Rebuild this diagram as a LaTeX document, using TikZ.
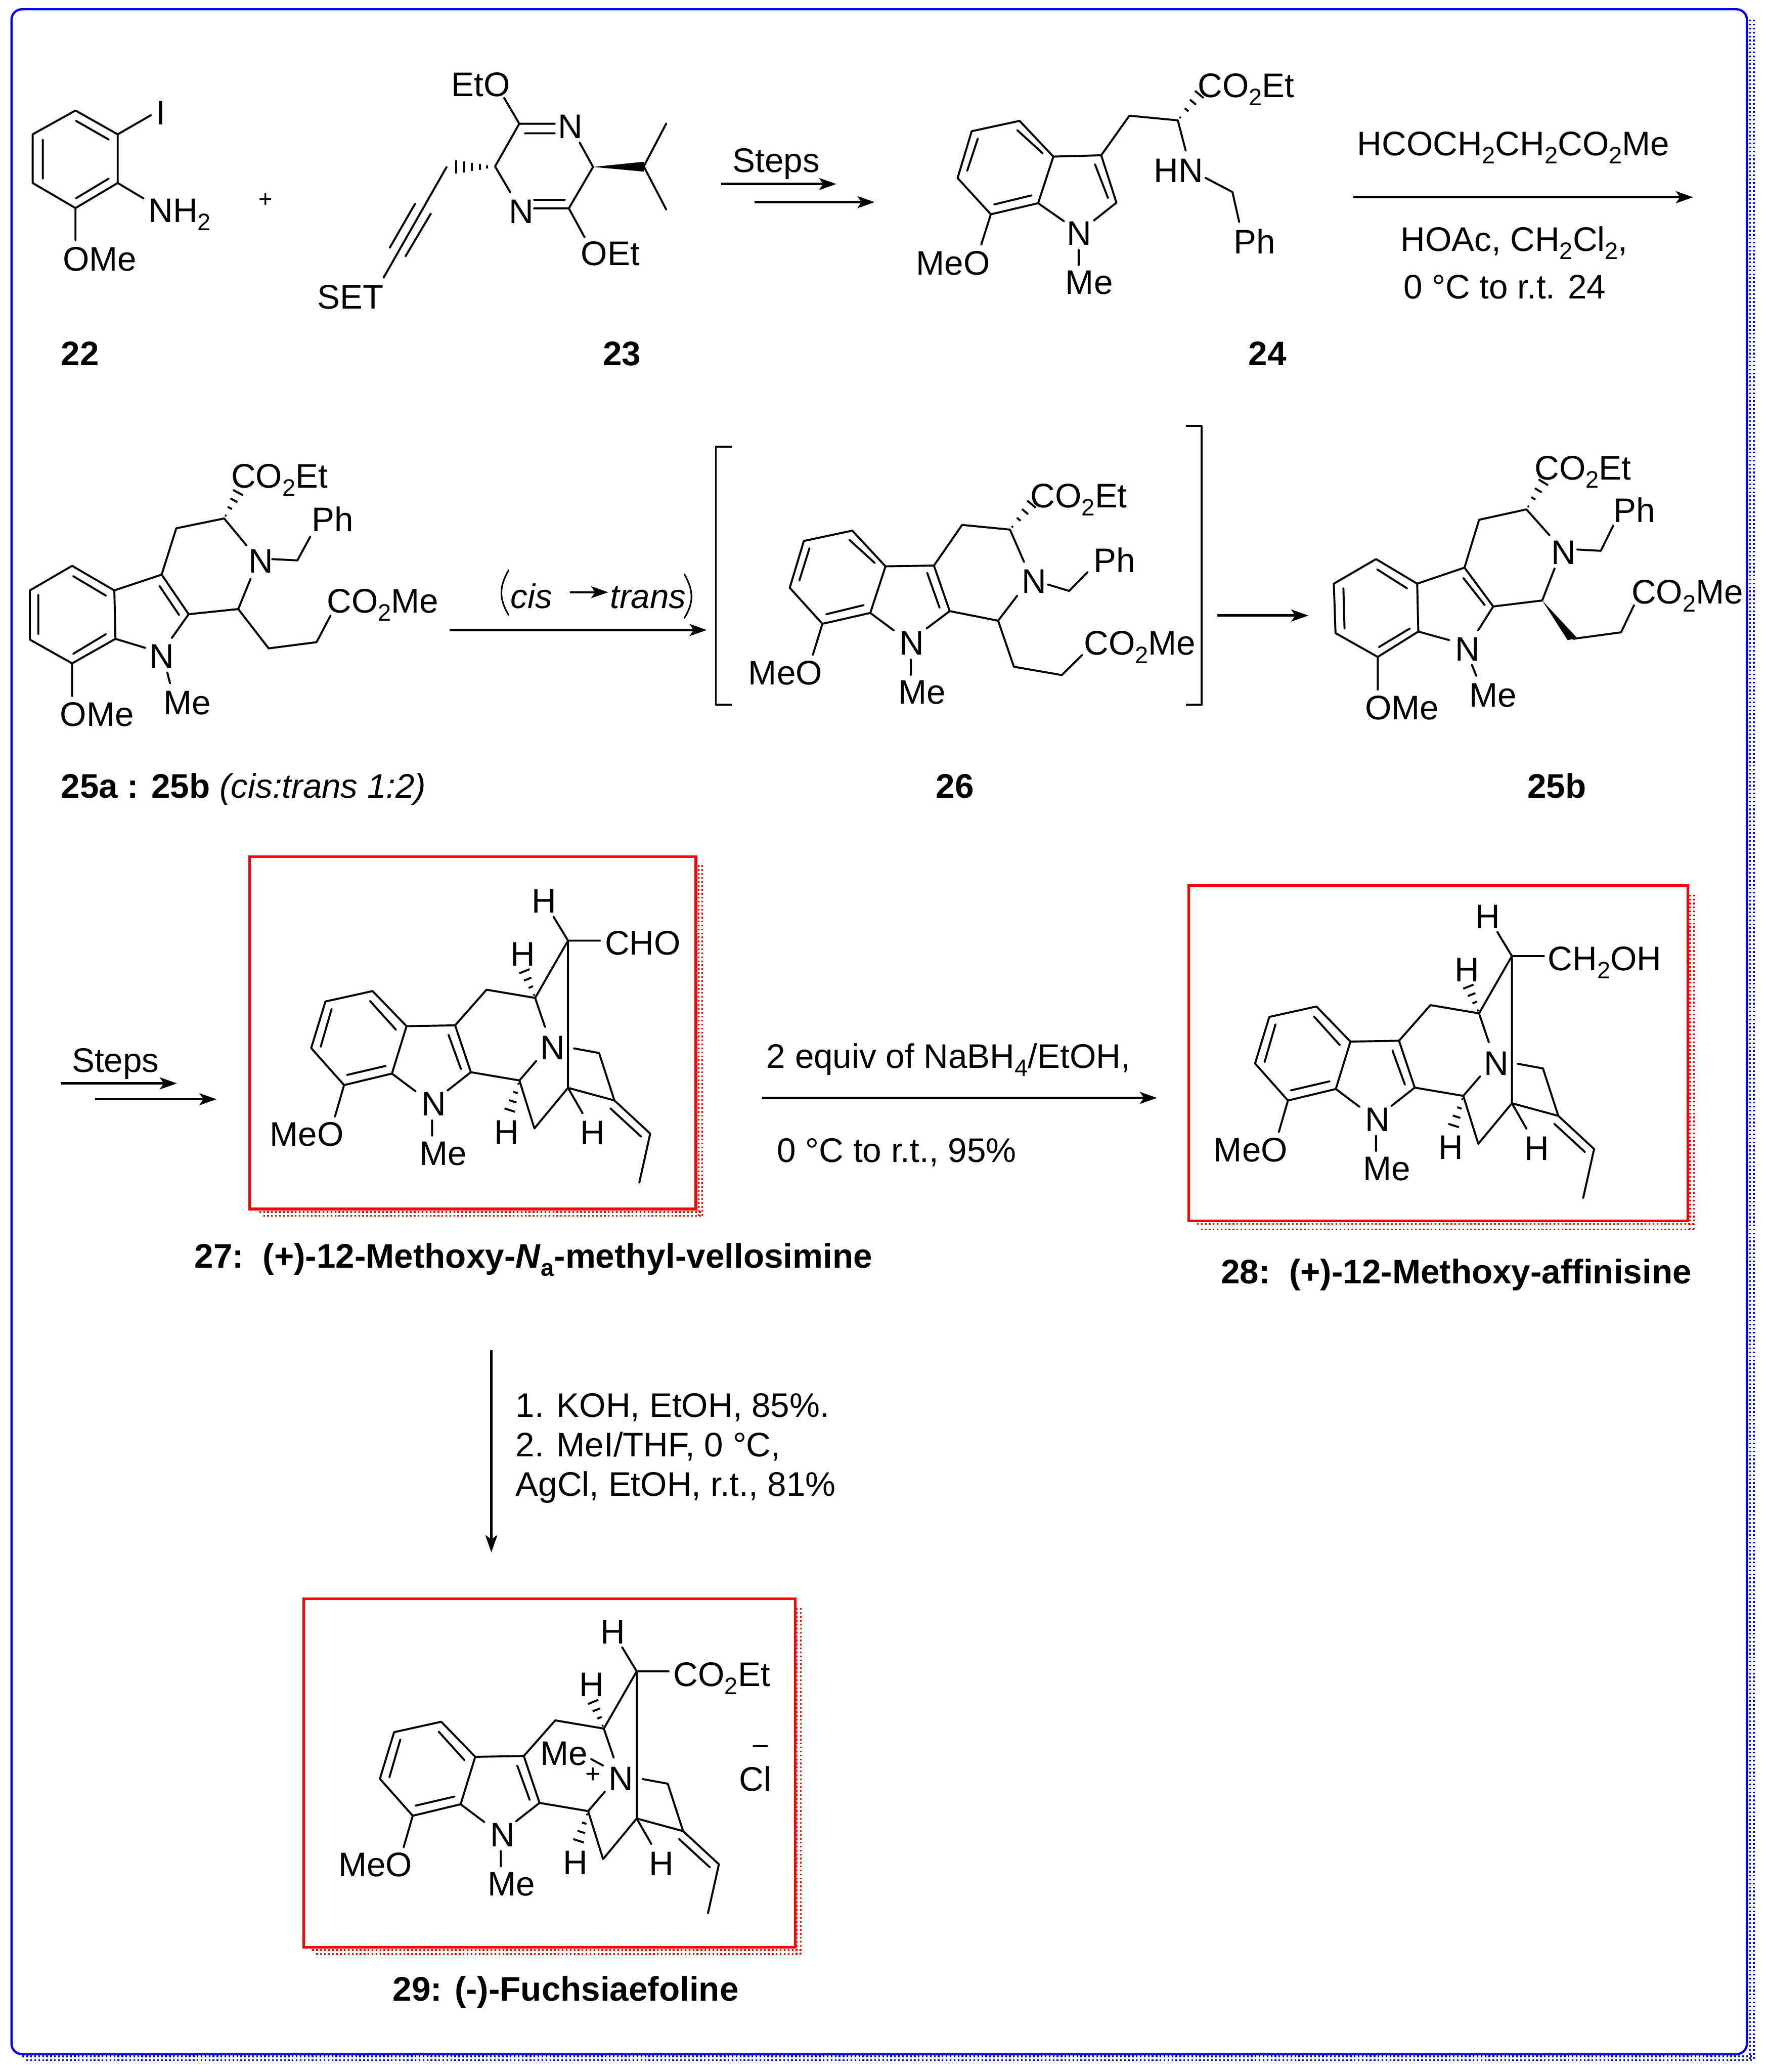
\documentclass[tikz,border=0pt]{standalone}
\usepackage{fontspec}
\setmainfont{Liberation Sans}
\usetikzlibrary{arrows.meta,calc}
\definecolor{framblue}{RGB}{0,0,255}
\definecolor{boxred}{RGB}{255,0,0}
\newcommand{\subs}[1]{\raisebox{-.24em}{\fontsize{18}{18}\selectfont #1}}
\tikzset{
 zt/.style 2 args={shift={(#1,#2)},x=.4264pt,y=-.1959pt},
 zm/.style 2 args={shift={(#1,#2)},x=.2766pt,y=-.20747pt},
 lab/.style={inner sep=0pt,outer sep=0pt,anchor=base west,xshift=-.6pt,yshift=-.5pt,font=\fontsize{25.8}{30}\selectfont},
 num/.style={lab,font=\fontsize{25.8}{30}\selectfont\bfseries},
 bond/.style={line width=1.5pt,line cap=round,line join=round},
 rxn/.style={line width=1.9pt,-{Stealth[length=13pt,width=9pt,inset=3pt]}},
 dotrow/.style={line width=1.25pt,dash pattern=on 1.25pt off 1.75pt},
}
% colour, left, top, column 1, column 2, row 1, row 2
\newcommand{\dotframe}[7]{%
 \draw[dotrow,#1] (#2,#6)--(#5,#6);
 \draw[dotrow,#1] (#2+3,#7)--(#5,#7);
 \draw[dotrow,#1] (#4,#3)--(#4,#7);
 \draw[dotrow,#1] (#5,#3)--(#5,#7);
}
\newcommand{\hashbond}[2]{\foreach \hf/\hw in {.1/.6,.37/1.8,.64/3,.91/4.2}{\draw[bond,line cap=butt] ($#1!\hf!#2!\hw pt!90:#2$) -- ($#1!\hf!#2!\hw pt!-90:#2$);}}
\newcommand{\pentacycle}[1]{%
 \draw[bond] (497,567)--(368,605)--(329,775)--(419,910)--(550,868)--(590,695)--cycle;
 \draw[bond] (490,603)--(561,708) (385,632)--(355,770) (427,873)--(533,840);
 \draw[bond] (590,695)--(723,692)--(766,863)--(702,930) (550,868)--(615,933) (705,727)--(739,852);
 \draw[bond] (660,1038)--(660,1095) (419,910)--(394,1025);
 \draw[bond] (723,692)--(809,562)--(942,592)--(969,698) (942,592)--(1032,383)--(992,295) (1032,383)--(1120,383) (1032,383)--(1032,920);
 \draw[bond] (945,822)--(899,893)--(766,863) (899,893)--(940,1068)--(1032,920)--(1072,1013) (1032,920)--(1159,966) (1048,776)--(1117,793)--(1159,966)--(1257,1087)--(1227,1266) (1148,995)--(1232,1098);
 \hashbond{(942,592)}{(910,485)}
 \hashbond{(899,893)}{(870,1012)}
 \node[lab] (#1N) at (633,1020) {N};
 \node[lab] (#1Me) at (627,1200) {Me};
 \node[lab] (#1MeO) at (218,1130) {MeO};
 \node[lab] (#1Nb) at (958,815) {N};
 \node[lab] (#1Ha) at (935,280) {H};
 \node[lab] (#1Hb) at (877,473) {H};
 \node[lab] (#1Hc) at (833,1122) {H};
 \node[lab] (#1Hd) at (1068,1125) {H};
}
\begin{document}
\begin{tikzpicture}[x=1pt,y=-1pt]
\useasboundingbox (0,0) rectangle (1337,1568.3);
% frame
\dotframe{framblue}{17}{15}{1324.9}{1327.8}{1556.4}{1559.2}
\draw[framblue,line width=1.7pt,rounded corners=8pt] (8.7,7) rectangle (1322.6,1554.8);
% ---------- top left
\begin{scope}[zt={0}{0}]
 \draw[bond] (134,427)--(58,519)--(58,707)--(134,804)--(209,707)--(209,519)--cycle;
 \draw[bond] (135,467)--(193,539) (76,540)--(76,690) (135,766)--(193,690);
 \draw[bond] (209,519)--(268,445) (209,707)--(255,767) (134,804)--(134,928);
 \node[lab] (iod) at (278,480) {I};
 \node[lab] (nh) at (265,857) {NH\subs{2}};
 \node[lab] (ome22) at (113,1045) {OMe};
 \node[lab,anchor=center,font=\fontsize{18}{18}\selectfont] (plus) at (473,772) {+};
 \draw[bond] (922,478)--(985,478) (932,515)--(985,515) (922,478)--(895,378) (922,478)--(879,643)--(906,743);
 \draw[bond] (948,772)--(1003,772) (948,805)--(1010,805) (1010,805)--(1053,645)--(1029,550) (1010,805)--(1038,917);
 \fill (1053,645)--(1143,625)--(1143,663)--cycle;
 \draw[bond] (1183,477)--(1143,643)--(1183,810);
 \foreach \hx/\hh in {865/6,852/11,838/16,824/21,810/26}{\draw[bond,line cap=butt] (\hx,645-\hh)--(\hx,645+\hh);}
 \draw[bond] (793,645)--(681,1073) (737,787)--(692,957) (765,825)--(720,990);
 \node[lab] (eto) at (803,370) {EtO};
 \node[lab] (na) at (992,532) {N};
 \node[lab] (nb) at (905,860) {N};
 \node[lab] (oet) at (1033,1022) {OEt};
 \node[lab] (set) at (565,1190) {SET};
 \node[lab] (st1) at (1302,663) {Steps};
 \coordinate (a1s) at (1280,711);\coordinate (a1e) at (1485,711);
 \coordinate (a2s) at (1340,781);\coordinate (a2e) at (1553,781);
 \draw[rxn] (a1s)--(a1e);
 \draw[rxn] (a2s)--(a2e);
 \node[num] (n22) at (110,1410) {22};
 \node[num] (n23) at (1072,1410) {23};
\end{scope}
% ---------- 24
\begin{scope}[zt={668.7}{0}]
 \draw[bond] (242,467)--(157,507)--(132,688)--(191,828)--(275,785)--(302,605)--cycle;
 \draw[bond] (238,503)--(283,592) (168,535)--(149,660) (197,790)--(263,755);
 \draw[bond] (302,605)--(387,600)--(414,783)--(374,852) (376,635)--(399,765) (275,785)--(321,855) (347,965)--(347,1025) (191,828)--(174,945);
 \draw[bond] (387,600)--(437,447)--(523,465)--(537,582) (572,687)--(620,742)--(632,858);
 \hashbond{(523,465)}{(565,355)}
 \node[lab] (n24) at (327,945) {N};
 \node[lab] (me24) at (325,1133) {Me};
 \node[lab] (meo24) at (60,1060) {MeO};
 \node[lab] (co24) at (560,373) {CO\subs{2}Et};
 \node[lab] (hn24) at (482,702) {HN};
 \node[lab] (ph24) at (624,977) {Ph};
 \node[lab] (r1) at (843,598) {HCOCH\subs{2}CH\subs{2}CO\subs{2}Me};
 \coordinate (a3s) at (835,762);\coordinate (a3e) at (1438,762);
 \draw[rxn] (a3s)--(a3e);
 \node[lab] (r2) at (920,968) {HOAc, CH\subs{2}Cl\subs{2},};
 \node[lab] (r3) at (925,1152) {0 °C to r.t. 24};
 \node[num] (l24) at (650,1410) {24};
\end{scope}
% ---------- 25a
\begin{scope}[zt={0}{307.2}]
 \draw[bond] (128,618)--(53,713)--(53,903)--(128,995)--(205,900)--(203,713)--cycle;
 \draw[bond] (130,658)--(188,733) (68,730)--(68,882) (130,958)--(188,882);
 \draw[bond] (203,713)--(287,652)--(335,805)--(305,897) (205,900)--(258,935) (283,695)--(318,808) (297,1030)--(302,1072) (128,995)--(128,1122);
 \draw[bond] (287,652)--(313,473)--(398,435)--(438,540) (483,592)--(528,597)--(551,505) (445,668)--(423,785)--(335,805) (423,785)--(477,937)--(562,913)--(587,810);
 \hashbond{(398,435)}{(425,325)}
 \node[lab] (n25) at (267,1010) {N};
 \node[lab] (me25) at (292,1190) {Me};
 \node[lab] (ome25) at (108,1235) {OMe};
 \node[lab] (nb25) at (443,643) {N};
 \node[lab] (ph25) at (555,483) {Ph};
 \node[lab] (cm25) at (582,797) {CO\subs{2}Me};
 \node[lab] (ce25) at (412,315) {CO\subs{2}Et};
 \draw[bond,line width=1.2pt] (903,635) .. controls (886,700) and (886,745) .. (903,808);
 \draw[bond,line width=1.2pt] (1215,650) .. controls (1232,715) and (1232,760) .. (1215,820);
 \node[lab,font=\fontsize{25.8}{30}\selectfont\itshape] (cis) at (908,780) {cis};
 \coordinate (a4s) at (1012,720);\coordinate (a4e) at (1080,720);
 \draw[rxn,line width=1.5pt] (a4s)--(a4e);
 \node[lab,font=\fontsize{25.8}{30}\selectfont\itshape] (trans) at (1085,780) {trans};
 \coordinate (a5s) at (798,866);\coordinate (a5e) at (1255,866);
 \draw[rxn] (a5s)--(a5e);
 \draw[bond,line cap=butt] (1300,158)--(1271,158)--(1271,1155)--(1300,1155);
 \node[num] (l25a) at (110,1513) {25a : 25b \mdseries\itshape (cis:trans 1:2)};
\end{scope}
% ---------- 26 and 25b
\begin{scope}[zt={668.7}{307.2}]
 \draw[bond] (-55,482)--(-141,522)--(-166,703)--(-108,842)--(-23,800)--(4,620)--cycle;
 \draw[bond] (-60,518)--(-15,607) (-131,550)--(-149,675) (-101,805)--(-35,770);
 \draw[bond] (4,620)--(90,617)--(118,793)--(77,860) (78,645)--(100,780) (-23,800)--(19,868) (49,980)--(49,1040) (-108,842)--(-125,962);
 \draw[bond] (90,617)--(140,460)--(225,478)--(250,603) (292,690)--(330,715)--(363,642) (238,733)--(204,830)--(118,793) (204,830)--(232,1008)--(317,1040)--(353,963);
 \hashbond{(225,478)}{(267,370)}
 \node[lab] (n26) at (30,960) {N};
 \node[lab] (me26) at (28,1148) {Me};
 \node[lab] (meo26) at (-238,1075) {MeO};
 \node[lab] (nb26) at (247,720) {N};
 \node[lab] (ph26) at (375,640) {Ph};
 \node[lab] (cm26) at (358,960) {CO\subs{2}Me};
 \node[lab] (ce26) at (263,390) {CO\subs{2}Et};
 \draw[bond,line cap=butt] (537,78)--(565,78)--(565,1155)--(537,1155);
 \node[num] (l26) at (95,1512) {26};
 \coordinate (a6s) at (593,810);\coordinate (a6e) at (755,810);
 \draw[rxn] (a6s)--(a6e);
 \draw[bond] (875,592)--(800,687)--(803,878)--(878,970)--(950,872)--(948,687)--cycle;
 \draw[bond] (877,632)--(930,705) (817,705)--(819,860) (880,932)--(935,860);
 \draw[bond] (948,687)--(1032,625)--(1083,775)--(1056,868) (950,872)--(1005,905) (1030,665)--(1068,770) (1045,1000)--(1053,1043) (878,970)--(878,1097);
 \draw[bond] (1032,625)--(1058,440)--(1142,400)--(1183,500) (1232,555)--(1274,560)--(1296,463) (1192,628)--(1170,752)--(1083,775) (1225,900)--(1310,875)--(1333,770);
 \fill (1170,752)--(1215,905)--(1232,897)--cycle;
 \hashbond{(1142,400)}{(1175,285)}
 \node[lab] (n25b) at (1017,982) {N};
 \node[lab] (me25b) at (1042,1160) {Me};
 \node[lab] (ome25b) at (857,1210) {OMe};
 \node[lab] (nb25b) at (1188,610) {N};
 \node[lab] (ph25b) at (1298,448) {Ph};
 \node[lab] (cm25b) at (1330,762) {CO\subs{2}Me};
 \node[lab] (ce25b) at (1158,283) {CO\subs{2}Et};
 \node[num] (l25b) at (1145,1512) {25b};
\end{scope}
% ---------- red box shadows
\dotframe{boxred}{196.3}{654.9}{528.9}{531.6}{917.4}{920.3}
\dotframe{boxred}{906.2}{677.2}{1279.6}{1282.4}{926.5}{930.5}
\dotframe{boxred}{236.4}{1217.1}{603.2}{606.2}{1476}{1479.1}
% ---------- 27
\begin{scope}[zm={144.6}{632.5}]
 \draw[boxred,line width=2pt] (160,76) rectangle (1382,1362);
 \pentacycle{m}
 \node[lab] (cho) at (1135,432) {CHO};
\end{scope}
% ---------- 28
\begin{scope}[zm={867.5}{650.6}]
 \draw[boxred,line width=2pt] (117,95) rectangle (1484,1318);
 \begin{scope}[shift={(-30,-31)}]
  \pentacycle{p}
 \end{scope}
 \node[lab] (choh) at (1103,402) {CH\subs{2}OH};
\end{scope}
% ---------- 29
\begin{scope}[zm={209.6}{1192.8}]
 \draw[boxred,line width=2pt] (73,83) rectangle (1419,1355);
 \begin{scope}[shift={(-47,-35)}]
  \pentacycle{q}
 \end{scope}
 \node[lab] (co29) at (1088,400) {CO\subs{2}Et};
 \node[lab] (me29) at (723,688) {Me};
 \draw[bond] (860,668)--(893,692);
 \node[lab,anchor=center,font=\fontsize{20}{20}\selectfont] (pl29) at (868,725) {+};
 \draw[bond] (1305,622)--(1342,622);
 \node[lab] (cl29) at (1268,783) {Cl};
\end{scope}
% ---------- absolute labels
\node[num] (l27) at (148,959) {27:\ \ (+)-12-Methoxy-\textit{N}\subs{a}-methyl-vellosimine};
\node[num] (l28) at (925,971) {28:\ \ (+)-12-Methoxy-affinisine};
\node[num] (l29) at (298,1514) {29: (-)-Fuchsiaefoline};
\node[lab] (st2) at (55,811) {Steps};
\coordinate (a7s) at (46,820);\coordinate (a7e) at (134,820);
\coordinate (a8s) at (72,832);\coordinate (a8e) at (164,832);
\draw[rxn] (a7s)--(a7e);
\draw[rxn] (a8s)--(a8e);
\node[lab] (r4) at (581,808) {2 equiv of NaBH\subs{4}/EtOH,};
\coordinate (a9s) at (577,831);\coordinate (a9e) at (876,831);
\draw[rxn] (a9s)--(a9e);
\node[lab] (r5) at (589,879) {0 °C to r.t., 95\%};
\coordinate (a10s) at (372,1022);\coordinate (a10e) at (372,1175);
\draw[rxn] (a10s)--(a10e);
\node[lab] (r6) at (391,1072) {1. KOH, EtOH, 85\%.};
\node[lab] (r7) at (391,1102) {2. MeI/THF, 0 °C,};
\node[lab] (r8) at (391,1132) {AgCl, EtOH, r.t., 81\%};
\end{tikzpicture}
\end{document}
